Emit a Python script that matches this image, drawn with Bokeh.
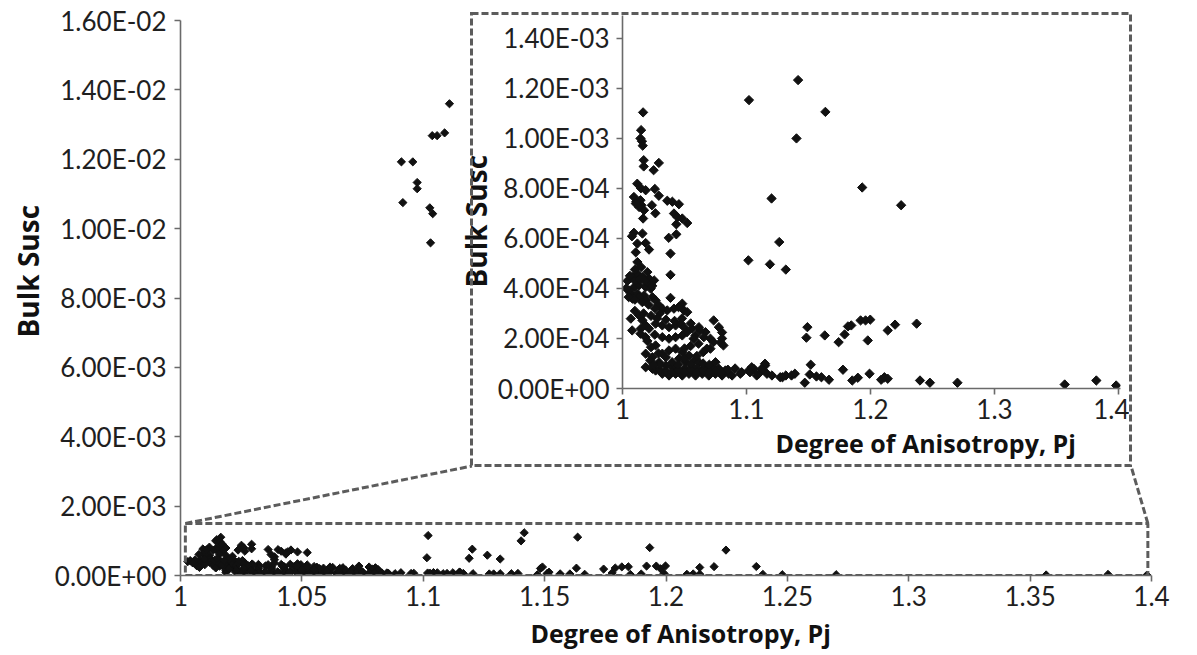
import math
from bokeh.plotting import figure
from bokeh.models import FixedTicker, BoxAnnotation, Range1d, Title, Div
from bokeh.embed import file_html
from bokeh.resources import INLINE

# ---------------- data ----------------
# low-susceptibility samples (Pj, Bulk Susc in units of 1e-4)
pj_low = [
    1.0166, 1.0150, 1.0145, 1.0157, 1.0163, 1.0171, 1.0171, 1.0293, 1.0251, 1.0119,
    1.0149, 1.0187, 1.0261, 1.0293, 1.0092, 1.0112, 1.0145, 1.0153, 1.0237, 1.0265,
    1.0361, 1.0402, 1.0455, 1.0415, 1.0442, 1.0482, 1.0522, 1.0166, 1.0174, 1.0134,
    1.0107, 1.0434,
    1.0092, 1.0076, 1.0161, 1.0120, 1.0187, 1.0107, 1.0214, 1.0120, 1.0373, 1.0434,
    1.0387, 1.0387, 1.0387,
    1.0080, 1.0120, 1.0161, 1.0214, 1.0255, 1.0094, 1.0134, 1.0187, 1.0227, 1.0067,
    1.0120, 1.0174, 1.0241, 1.0267, 1.0052, 1.0030, 1.0080, 1.0134, 1.0187, 1.0295,
    1.0321, 1.0361, 1.0415, 1.0482, 1.0496, 1.0522, 1.0067, 1.0134, 1.0161, 1.0187,
    1.0214, 1.0147, 1.0267, 1.0321, 1.0375, 1.0428, 1.0468, 1.0496, 1.0562, 1.0616,
    1.0735, 1.0777, 1.0803, 1.0669, 1.0589, 1.0656, 1.0709, 1.0803, 1.0790, 1.0709,
    1.0321, 1.0375, 1.0428, 1.0482, 1.0267, 1.0187, 1.0241, 1.0321, 1.0375, 1.0428,
    1.0482, 1.0536, 1.0589, 1.0295, 1.0348, 1.0402, 1.0187, 1.0241, 1.0455, 1.0508,
    1.0562, 1.0616, 1.0669, 1.0078, 1.0145, 1.0185, 1.0627, 1.0613, 1.0680, 1.0573,
    1.0520, 1.0452, 1.0733, 1.0814,
    1.0321, 1.0375, 1.0428, 1.0482, 1.0536, 1.0589, 1.0643, 1.0696, 1.0749, 1.0803,
    1.0857, 1.0723, 1.0777, 1.0830, 1.0884, 1.0950, 1.1018, 1.1058, 1.1098, 1.1151,
    1.1165, 1.1205, 1.1272, 1.0267, 1.0610, 1.0506, 1.0908, 1.0225, 1.1149, 1.1122,
    1.1042, 1.1028, 1.0961, 1.1082,
    1.1020, 1.1416, 1.1636, 1.1403, 1.1202, 1.1264, 1.1933, 1.2247, 1.1015, 1.1189,
    1.1317, 1.1491, 1.1483, 1.1631, 1.1743, 1.1791, 1.1818, 1.1845, 1.1920, 1.1960,
    1.1998, 1.1978, 1.2139, 1.2198, 1.2372,
    1.1470, 1.1518, 1.1510, 1.1564, 1.1604, 1.1665, 1.1778, 1.1853, 1.1898, 1.1992,
    1.2086, 1.2112, 1.2139, 1.2399, 1.2479, 1.2701, 1.3566, 1.3821, 1.3981, 1.1317,
    1.1363, 1.1390, 1.1290,
    1.0040, 1.0060, 1.0100, 1.0140, 1.0200, 1.0240, 1.0050, 1.0100, 1.0160, 1.0210,
    1.0260, 1.0300, 1.0100, 1.0170, 1.0230, 1.0280, 1.0350, 1.0420, 1.0480, 1.0550,
    1.0100, 1.0150, 1.0200, 1.0180,
    1.0300, 1.0350, 1.0400, 1.0450, 1.0500, 1.0550, 1.0600, 1.0650, 1.0700, 1.0750,
    1.0800, 1.0850, 1.0300, 1.0400, 1.0450, 1.0500, 1.0550, 1.0650, 1.0700, 1.0750,
    1.0600, 1.0500, 1.0550, 1.0650, 1.0350, 1.0290, 1.0250, 1.0230, 1.0200, 1.0260,
]
susc_low_e4 = [
    11.03, 10.32, 9.99, 9.88, 9.70, 9.12, 8.87, 9.01, 8.72, 8.18,
    8.00, 7.92, 7.97, 7.70, 7.65, 7.47, 7.52, 7.32, 7.32, 7.00,
    7.50, 7.46, 7.36, 6.99, 6.85, 6.79, 6.61, 6.79, 7.12, 7.25,
    7.39, 6.56,
    6.22, 6.08, 6.19, 5.79, 5.81, 5.44, 5.55, 5.05, 6.02, 6.16,
    5.39, 4.54, 3.62,
    4.45, 4.59, 4.45, 4.39, 4.32, 4.05, 4.12, 4.05, 3.99, 3.79,
    3.79, 3.72, 3.65, 3.52, 3.92, 4.00, 3.59, 3.65, 3.52, 3.32,
    3.19, 3.12, 3.19, 3.39, 3.12, 3.05, 2.79, 2.92, 2.72, 2.52,
    2.39, 2.39, 2.59, 2.52, 2.45, 2.52, 2.59, 2.45, 2.39, 2.45,
    2.72, 2.45, 2.24, 2.25, 2.12, 2.05, 1.99, 2.00, 1.84, 1.59,
    2.05, 1.99, 2.05, 2.12, 1.72, 1.39, 1.25, 1.39, 1.52, 1.59,
    1.45, 1.32, 1.19, 1.05, 0.92, 0.85, 0.85, 0.79, 1.19, 1.05,
    0.92, 1.05, 0.85, 2.32, 2.19, 2.05, 2.32, 1.79, 1.59, 1.99,
    2.25, 3.25, 1.85, 1.72,
    0.59, 0.52, 0.59, 0.52, 0.59, 0.52, 0.59, 0.52, 0.59, 0.52,
    0.59, 0.85, 0.79, 0.72, 0.52, 0.59, 0.72, 0.79, 0.59, 0.92,
    0.59, 0.52, 0.45, 0.72, 0.80, 0.80, 0.80, 1.12, 0.99, 0.79,
    0.85, 0.65, 0.65, 0.52,
    11.52, 12.32, 11.05, 9.99, 7.59, 5.85, 8.03, 7.32, 5.12, 4.96,
    4.75, 2.45, 2.03, 2.12, 1.85, 2.16, 2.48, 2.52, 2.72, 2.72,
    2.75, 1.92, 2.32, 2.55, 2.59,
    0.23, 0.95, 0.56, 0.48, 0.45, 0.35, 0.75, 0.32, 0.43, 0.59,
    0.35, 0.45, 0.39, 0.32, 0.23, 0.23, 0.16, 0.32, 0.12, 0.52,
    0.52, 0.59, 0.45,
    4.30, 4.50, 4.30, 4.35, 4.25, 4.10, 3.65, 3.55, 3.45, 3.35,
    3.20, 3.00, 3.10, 3.00, 2.90, 2.80, 2.75, 2.70, 2.80, 2.60,
    4.75, 4.85, 4.65, 4.30,
    0.75, 0.70, 0.65, 0.75, 0.65, 0.75, 0.65, 0.72, 0.68, 0.72,
    0.66, 0.75, 0.95, 1.05, 0.95, 1.20, 1.00, 1.00, 0.95, 1.05,
    1.30, 1.60, 1.70, 1.45, 1.25, 1.40, 0.95, 1.65, 1.90, 2.15,
]
# high-susceptibility samples (only visible in the main chart)
pj_high = [1.0910, 1.0957, 1.0975, 1.0975, 1.0916, 1.1027, 1.1039, 1.1030,
           1.1037, 1.1057, 1.1088, 1.1108]
susc_high = [0.011925, 0.011925, 0.01133, 0.01115, 0.01075, 0.0106, 0.01043, 0.00959,
             0.01268, 0.01268, 0.01276, 0.0136]

pj_all = pj_low + pj_high
susc_all = [v * 1e-4 for v in susc_low_e4] + susc_high

main_x_ticks = [1.0, 1.05, 1.1, 1.15, 1.2, 1.25, 1.3, 1.35, 1.4]
main_x_labels = ["1", "1.05", "1.1", "1.15", "1.2", "1.25", "1.3", "1.35", "1.4"]
main_y_ticks = [0.0, 0.002, 0.004, 0.006, 0.008, 0.01, 0.012, 0.014, 0.016]
main_y_labels = ["0.00E+00", "2.00E-03", "4.00E-03", "6.00E-03", "8.00E-03",
                 "1.00E-02", "1.20E-02", "1.40E-02", "1.60E-02"]
inset_x_ticks = [1.0, 1.1, 1.2, 1.3, 1.4]
inset_x_labels = ["1", "1.1", "1.2", "1.3", "1.4"]
inset_y_ticks = [0.0, 0.0002, 0.0004, 0.0006, 0.0008, 0.001, 0.0012, 0.0014]
inset_y_labels = ["0.00E+00", "2.00E-04", "4.00E-04", "6.00E-04", "8.00E-04",
                  "1.00E-03", "1.20E-03", "1.40E-03"]

x_title = "Degree of Anisotropy, Pj"
y_title = "Bulk Susc"

# ---------------- layout constants (page pixels) ----------------
FONT = "Lato"
TFONT = "Open Sans"
AX = "#6a6a6a"
DASH = "#5c5c5c"
MAIN_XR = (1.0, 1.4)
MAIN_YR = (0.0, 0.016)
ML, MT, FW, FH = 180, 20, 971, 555               # main frame
BOX_L, BOX_T, BOX_W, BOX_H = 470, 12, 662, 455   # dashed inset box (outer)
INS_XR = (1.0, 1.4016)
INS_YR = (0.0, 0.00149)
I_LEFT, I_TOP = 447, BOX_T + 3                   # inset canvas origin
IFL, IFW, IFH = 175, 498, 373                    # inset frame inside the canvas
I_RIGHT_PAD, I_BOTTOM_PAD = 9, 76


def mx(px):
    return MAIN_XR[0] + (px - ML) / FW * (MAIN_XR[1] - MAIN_XR[0])


def my(py):
    return MAIN_YR[0] + (MT + FH - py) / FH * (MAIN_YR[1] - MAIN_YR[0])


def style_axes(fig, xt, xl, yt, yl, ystandoff):
    fig.xaxis.ticker = FixedTicker(ticks=xt)
    fig.xaxis.major_label_overrides = dict(zip(xt, xl))
    fig.yaxis.ticker = FixedTicker(ticks=yt)
    fig.yaxis.major_label_overrides = dict(zip(yt, yl))
    for ax in fig.axis:
        ax.axis_line_color = AX
        ax.axis_line_width = 1.6
        ax.major_tick_line_color = AX
        ax.major_tick_line_width = 1.6
        ax.major_tick_out = 6
        ax.major_tick_in = 0
        ax.minor_tick_out = 0
        ax.minor_tick_in = 0
        ax.major_label_text_font = FONT
        ax.major_label_text_font_size = "26px"
        ax.major_label_text_color = "#1f1f1f"
    fig.xaxis.major_label_standoff = 4
    fig.yaxis.major_label_standoff = ystandoff
    fig.xgrid.visible = False
    fig.ygrid.visible = False
    fig.outline_line_color = None


def axis_title(text, offset, standoff, size):
    return Title(text=text, align="left", offset=offset, standoff=standoff,
                 text_font=TFONT, text_font_style="bold", text_font_size=size,
                 text_color="#111111")


# ---------------- main chart ----------------
p = figure(frame_width=FW, frame_height=FH, x_range=Range1d(*MAIN_XR),
           y_range=Range1d(*MAIN_YR), output_backend="svg", toolbar_location=None,
           min_border_left=ML, min_border_right=38, min_border_top=MT,
           min_border_bottom=80, background_fill_color="white")
style_axes(p, main_x_ticks, main_x_labels, main_y_ticks, main_y_labels, 8)
p.scatter(pj_all, susc_all, marker="square", angle=math.pi / 4, size=5.8,
          color="#111111")

# zoom region box (the inset's range) and connectors to the inset box
p.add_layout(BoxAnnotation(left=INS_XR[0] + 0.002, right=MAIN_XR[1] - 0.0015,
                           bottom=INS_YR[0], top=0.0015, fill_color=None,
                           line_color=DASH, line_alpha=1.0, line_width=3,
                           line_dash="7 3"))
p.segment(x0=[INS_XR[0] + 0.002, MAIN_XR[1] - 0.0015], y0=[0.0015, 0.0015],
          x1=[mx(BOX_L + 1.5), mx(BOX_L + BOX_W - 1.5)],
          y1=[my(BOX_T + BOX_H - 1.5), my(BOX_T + BOX_H - 1.5)],
          line_color=DASH, line_width=3, line_dash="7 3")

p.add_layout(axis_title(x_title, 350, 10, "25px"), "below")
p.add_layout(axis_title(y_title, 238, 10, "28px"), "left")

# ---------------- inset ----------------
ins = figure(frame_width=IFW, frame_height=IFH, x_range=Range1d(*INS_XR),
             y_range=Range1d(*INS_YR), output_backend="svg", toolbar_location=None,
             min_border_left=IFL, min_border_right=I_RIGHT_PAD, min_border_top=0,
             min_border_bottom=I_BOTTOM_PAD, background_fill_color="white",
             border_fill_alpha=0.0)
style_axes(ins, inset_x_ticks, inset_x_labels, inset_y_ticks, inset_y_labels, 7)
ins.scatter(pj_all, susc_all, marker="square", angle=math.pi / 4, size=6.6,
            color="#111111")
ins.add_layout(axis_title(x_title, 153, 5, "25px"), "below")
ins.add_layout(axis_title(y_title, 101, 0, "28px"), "left")
ins.styles = {"position": "absolute", "left": f"{I_LEFT}px", "top": f"{I_TOP}px",
              "z-index": "2"}

svg = (f"<svg xmlns='http://www.w3.org/2000/svg' width='{BOX_W}' height='{BOX_H}'>"
       f"<rect x='1.5' y='1.5' width='{BOX_W - 3}' height='{BOX_H - 3}' fill='none' "
       f"stroke='{DASH}' stroke-width='3' stroke-dasharray='7 3'/></svg>").replace("#", "%23")
frame_div = Div(text="", width=BOX_W, height=BOX_H, margin=0,
                styles={"position": "absolute", "left": f"{BOX_L}px", "top": f"{BOX_T}px",
                        "z-index": "3", "pointer-events": "none", "margin": "0px",
                        "background-image": f"url(\"data:image/svg+xml;utf8,{svg}\")",
                        "background-repeat": "no-repeat"})

open("out.html", "w").write(file_html([p, ins, frame_div], INLINE))
